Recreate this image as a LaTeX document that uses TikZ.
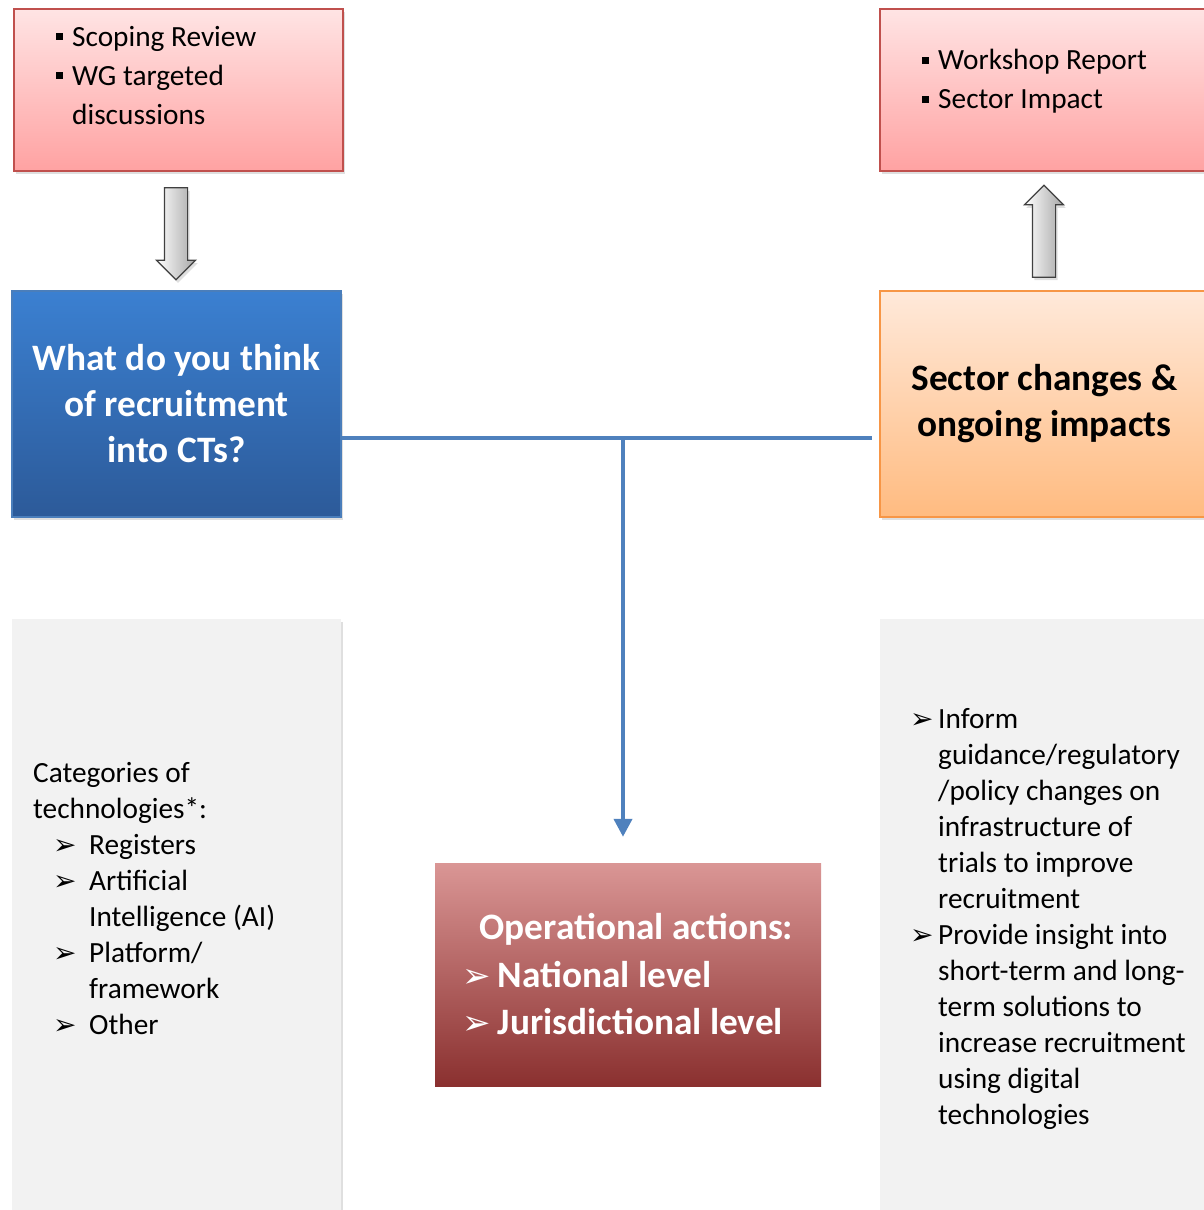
\documentclass[tikz,border=0pt]{standalone}
\usepackage{fontspec}
\setmainfont{Carlito}
\newfontfamily\symfont{DejaVu Sans}
\usetikzlibrary{shadows,shapes.arrows,arrows.meta}

\definecolor{pinktop}{HTML}{FFE4E4}
\definecolor{pinkbot}{HTML}{FFA2A2}
\definecolor{pinkline}{HTML}{C0504D}
\definecolor{bluetop}{HTML}{3B80D1}
\definecolor{bluebot}{HTML}{2C5A99}
\definecolor{blueline}{HTML}{4A7EBB}
\definecolor{orangetop}{HTML}{FFE9DA}
\definecolor{orangebot}{HTML}{FFBB80}
\definecolor{orangeline}{HTML}{F79646}
\definecolor{opstop}{HTML}{DA9695}
\definecolor{opsbot}{HTML}{8A302F}
\definecolor{greyfill}{HTML}{F2F2F2}
\definecolor{connblue}{HTML}{4F81BD}

\newcommand{\arr}[1]{{\symfont\fontsize{#1}{36}\selectfont ➢}}
\newcommand{\bul}[3]{\makebox[#2][l]{\hspace*{#1}\arr{#3}}}
\newcommand{\sqb}{\makebox[16pt][l]{\rule[6pt]{7pt}{7pt}}}

\tikzstyle{shade}=[drop shadow={shadow xshift=2pt,shadow yshift=-3pt,opacity=0.25}]
\tikzstyle{pinkbox}=[shade,draw=pinkline,line width=1.5pt,top color=pinktop,bottom color=pinkbot,minimum width=329pt,minimum height=162pt]
\tikzstyle{bluebox}=[shade,draw=blueline,line width=1.5pt,top color=bluetop,bottom color=bluebot,minimum width=329pt,minimum height=226pt]
\tikzstyle{orangebox}=[shade,draw=orangeline,line width=1.5pt,top color=orangetop,bottom color=orangebot,minimum width=329pt,minimum height=226pt]
\tikzstyle{greybox}=[shade,fill=greyfill,minimum width=329pt,minimum height=611pt]
\tikzstyle{opsbox}=[top color=opstop,bottom color=opsbot,minimum width=386pt,minimum height=223pt]
\tikzstyle{blockarr}=[shade,single arrow,draw=black!75,line width=1.2pt,left color=white,right color=black!35,minimum height=92pt,inner sep=11pt,single arrow head extend=8pt]
\tikzstyle{txt}=[anchor=north west,align=left,inner sep=0pt,font=\fontsize{29.3}{36}\selectfont]
\tikzstyle{head}=[align=center,font=\fontsize{37.3}{46}\selectfont\bfseries]
\tikzstyle{conn}=[draw=connblue,line width=4pt]

\begin{document}
\begin{tikzpicture}[x=1pt,y=-1pt]
	\useasboundingbox (0,0) rectangle (1204,1210);

	\node (review) at (178.5,90) [pinkbox] {};
	\node (report) at (1044.5,90) [pinkbox] {};
	\node (reviewtxt) at (56,26) [txt,font=\fontsize{29.3}{39}\selectfont] {\sqb Scoping Review\\\sqb WG targeted\\\hspace*{16pt}discussions};
	\node (reporttxt) at (922,49) [txt,font=\fontsize{29.3}{39}\selectfont] {\sqb Workshop Report\\\sqb Sector Impact};

	\node (downarr) at (176,228) [blockarr,shape border rotate=270] {};
	\node (uparr) at (1044,237) [blockarr,shape border rotate=90] {};

	\node (what) at (176.5,404) [bluebox,head,text=white] {What do you think\\of recruitment\\into CTs?};
	\node (sector) at (1044.5,404) [orangebox,head] {Sector changes \&\\ongoing impacts};

	\node (techbox) at (176.5,924.5) [greybox] {};
	\node (impactbox) at (1044.5,924.5) [greybox] {};
	\node (techtxt) at (33,762) [txt] {Categories of\\technologies*:\\\bul{20pt}{56pt}{28}Registers\\\bul{20pt}{56pt}{28}Artificial\\\hspace*{56pt}Intelligence (AI)\\\bul{20pt}{56pt}{28}Platform/\\\hspace*{56pt}framework\\\bul{20pt}{56pt}{28}Other};
	\node (impacttxt) at (910,708) [txt] {\bul{0pt}{28pt}{28}Inform\\\hspace*{28pt}guidance/regulatory\\\hspace*{28pt}/policy changes on\\\hspace*{28pt}infrastructure of\\\hspace*{28pt}trials to improve\\\hspace*{28pt}recruitment\\\bul{0pt}{28pt}{28}Provide insight into\\\hspace*{28pt}short-term and long-\\\hspace*{28pt}term solutions to\\\hspace*{28pt}increase recruitment\\\hspace*{28pt}using digital\\\hspace*{28pt}technologies};

	\node (ops) at (628,974.5) [opsbox,text=white,align=left,font=\fontsize{37.3}{47.5}\selectfont\bfseries] {\hspace*{17pt}Operational actions:\\\bul{0pt}{35pt}{34}National level\\\bul{0pt}{35pt}{34}Jurisdictional level};

	\coordinate (junc) at (623,438);
	\draw [conn] (what.east |- junc) -- ([xshift=-7pt]sector.west |- junc);
	\draw [conn,-{Triangle[width=18pt,length=18pt]},shorten >=26pt] (junc) -- (junc |- ops.north);
\end{tikzpicture}
\end{document}
